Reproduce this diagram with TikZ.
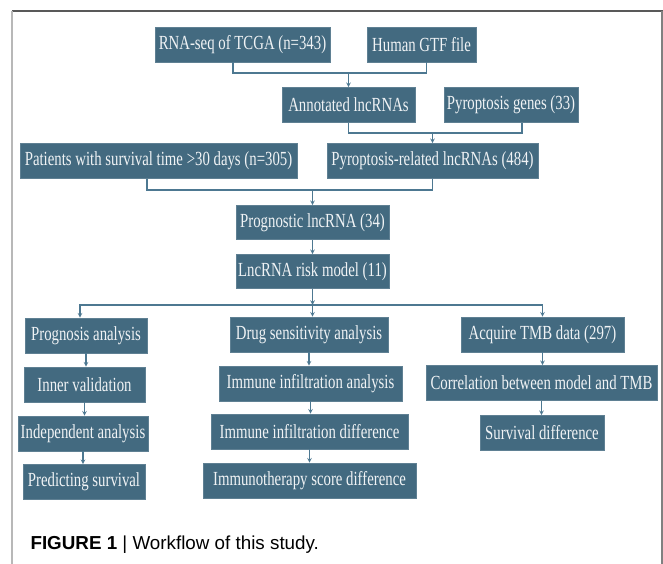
\documentclass[tikz,border=0pt]{standalone}
\usepackage{fontspec}
\setmainfont{Liberation Serif}
\newfontfamily\boxfont[FakeStretch=0.74]{Liberation Serif}
\newfontfamily\capfont{Liberation Sans}
\definecolor{boxblue}{HTML}{436A80}
\definecolor{linkblue}{HTML}{4D7891}
\definecolor{boxtext}{HTML}{F0F3F5}

\begin{document}
\begin{tikzpicture}[x=1pt, y=-1pt,
  blk/.style={fill=boxblue, draw=boxblue!85!white, line width=0.6pt, text=boxtext,
    font=\boxfont\fontsize{20}{22}\selectfont, minimum height=35pt, inner sep=0pt},
  link/.style={draw=linkblue, line width=1.1pt},
  arr/.style={link, ->, >=stealth}]
  \useasboundingbox (0,0) rectangle (663,564);
  \draw[line width=1.5pt, black!65] (12,11) -- (663,11);
  \draw[line width=1.5pt, black!28] (12,11) -- (12,564);
  \draw[line width=1.3pt, black!50] (662,11) -- (662,564);

  \node[blk, minimum width=175pt] (rna) at (242.5,44.5) {RNA-seq of TCGA (n=343)};
  \node[blk, minimum width=109pt] (gtf) at (421.5,44.5) {Human GTF file};
  \node[blk, minimum width=133pt] (anno) at (348.5,105) {Annotated lncRNAs};
  \node[blk, minimum width=134pt] (pgene) at (511,105) {Pyroptosis genes (33)};
  \node[blk, minimum width=277pt] (pat) at (158.5,161) {Patients with survival time >30 days (n=305)};
  \node[blk, minimum width=211pt] (prl) at (432.5,161) {Pyroptosis-related lncRNAs (484)};
  \node[blk, minimum width=153pt, minimum height=34pt] (prog) at (312.5,222.5) {Prognostic lncRNA (34)};
  \node[blk, minimum width=153pt, minimum height=34pt] (risk) at (312.5,271.5) {LncRNA risk model (11)};

  \node[blk, minimum width=122pt] (pa) at (86,335.5) {Prognosis analysis};
  \node[blk, minimum width=121pt] (inner) at (84.5,384.5) {Inner validation};
  \node[blk, minimum width=130pt] (indep) at (83,433.5) {Independent analysis};
  \node[blk, minimum width=122pt] (pred) at (84,482) {Predicting survival};

  \node[blk, minimum width=158pt] (drug) at (309,334.5) {Drug sensitivity analysis};
  \node[blk, minimum width=183pt] (iia) at (310.5,383.5) {Immune infiltration analysis};
  \node[blk, minimum width=197pt] (iid) at (309.5,431.5) {Immune infiltration difference};
  \node[blk, minimum width=213pt] (ither) at (309.5,480.5) {Immunotherapy score difference};

  \node[blk, minimum width=163pt] (tmb) at (542.5,334.5) {Acquire TMB data (297)};
  \node[blk, minimum width=231pt] (cor) at (541.5,383) {Correlation between model and TMB};
  \node[blk, minimum width=124pt] (surv) at (542,433) {Survival difference};

  \coordinate (j1) at (348.5,73);
  \coordinate (j2) at (432.5,133);
  \coordinate (j3) at (312.5,190);
  \coordinate (j4) at (312.5,305);

  \draw[link] ([xshift=-9.5pt]rna.south) |- (j1) -| ([xshift=5pt]gtf.south);
  \draw[arr] (j1) -- (anno.north);
  \draw[link] (anno.south) |- (j2) -| ([xshift=11pt]pgene.south);
  \draw[arr] (j2) -- (prl.north);
  \draw[link] ([xshift=-11.5pt]pat.south) |- (j3) -| (prl.south);
  \draw[arr] (j3) -- (prog.north);
  \draw[arr] (prog) -- (risk);
  % 분기선
  \draw[arr] (risk) -- (j4);
  \draw[arr] (j4) -| ([xshift=-6pt]pa.north);
  \draw[arr] (j4) -| (tmb.north);
  \draw[arr] (j4) -- (j4 |- drug.north);

  \draw[arr] (pa.south) -- (pa.south |- inner.north);
  \draw[arr] (inner.south) -- (inner.south |- indep.north);
  \draw[arr] (indep.south) -- (indep.south |- pred.north);
  \draw[arr] (drug.south) -- (drug.south |- iia.north);
  \draw[arr] (iia.south) -- (iia.south |- iid.north);
  \draw[arr] (iid.south) -- (iid.south |- ither.north);
  \draw[arr] (tmb.south) -- (tmb.south |- cor.north);
  \draw[arr] (cor.south) -- (cor.south |- surv.north);

  \node[anchor=west, font=\capfont\fontsize{18.8}{21}\selectfont] (cap) at (27,545)
    {\textbf{FIGURE 1} | Workflow of this study.};
\end{tikzpicture}
\end{document}
